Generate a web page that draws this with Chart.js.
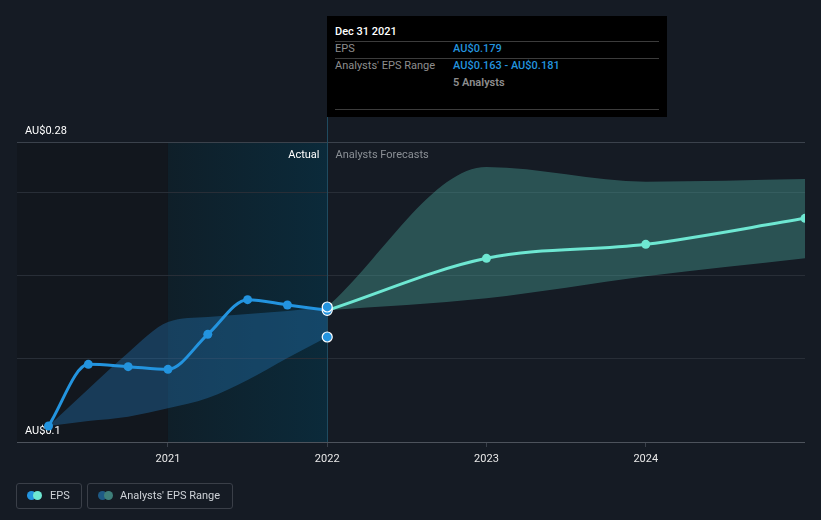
<!DOCTYPE html>
<html><head><meta charset="utf-8">
<script src="https://cdn.jsdelivr.net/npm/chart.js@4"></script>
<style>
html,body{margin:0;padding:0;background:#151b24;width:821px;height:520px;overflow:hidden;font-family:Roboto,"Noto Sans",sans-serif}
#wrap{position:relative;width:821px;height:520px}
canvas{position:absolute;left:0;top:0}
.tip{position:absolute;left:327px;top:16px;width:340px;height:101px;background:#000;font-size:11px;line-height:14px}
.tip div{position:absolute;white-space:nowrap}
.sep{height:1px;background:#3c3c3c;left:8px;width:324px}
.lab{color:#8e8e8e;left:8px}
.val{color:#2394df;left:126px;font-weight:500}
.leg{position:absolute;top:483px;height:26px;border:1px solid #3a3f48;border-radius:3px;box-sizing:border-box;color:#cfd3d8;font-size:11px}
.leg span.t{position:absolute;top:5px;line-height:14px;white-space:nowrap}
.dot{position:absolute;width:9px;height:9px;border-radius:50%;top:7px}
</style></head>
<body>
<div id="wrap">
<canvas id="c" width="821" height="520"></canvas>
<div class="tip">
  <div style="left:8px;top:9px;color:#fff;font-weight:500">Dec 31 2021</div>
  <div class="sep" style="top:25px"></div>
  <div class="lab" style="top:26px">EPS</div>
  <div class="val" style="top:26px">AU$0.179</div>
  <div class="sep" style="top:42px"></div>
  <div class="lab" style="top:43px">Analysts' EPS Range</div>
  <div class="val" style="top:43px">AU$0.163 - AU$0.181</div>
  <div style="left:126px;top:60px;color:#8e8e8e;font-weight:600">5 Analysts</div>
  <div class="sep" style="top:93px"></div>
</div>
<div class="leg" style="left:16px;width:66px">
  <div class="dot" style="left:10px;background:#2394df"></div>
  <div class="dot" style="left:16px;background:#6ee7d2"></div>
  <span class="t" style="left:33px">EPS</span>
</div>
<div class="leg" style="left:87px;width:146px">
  <div class="dot" style="left:10px;background:#1e5a85"></div>
  <div class="dot" style="left:16px;background:#3e7f7a"></div>
  <span class="t" style="left:32px">Analysts' EPS Range</span>
</div>
</div>
<script>
// ---- data ----
const actualDates = [2020.25, 2020.5, 2020.75, 2021.0, 2021.25, 2021.5, 2021.75, 2022.0];
const actualEPS   = [0.1096, 0.1466, 0.1452, 0.1436, 0.1646, 0.1854, 0.1822, 0.179];
const pastRangeLow  = [0.1096, 0.1126, 0.1152, 0.1202, 0.1264, 0.1372, 0.1504, 0.163];
const pastRangeHigh = [0.1096, 0.1318, 0.1536, 0.1720, 0.1750, 0.1768, 0.1786, 0.181];
const forecastDates = [2022.0, 2023.0, 2024.0, 2025.0];
const forecastEPS   = [0.179, 0.2102, 0.2186, 0.2342];
const forecastLow   = [0.179, 0.1862, 0.1994, 0.2102];
const forecastHigh  = [0.181, 0.2650, 0.2562, 0.2578];
const hoverDate = 2022.0;
const hoverRange = [0.181, 0.163];
const xTickValues = [2021, 2022, 2023, 2024];
const yTickValues = [0.1, 0.15, 0.2, 0.25, 0.28];
const yTickLabels = {"0.1": "AU$0.1", "0.28": "AU$0.28"};
const highlightStart = 2021.0, highlightEnd = 2022.0;

const pts = (xs, ys) => xs.map((x, i) => ({x, y: ys[i]}));

const bgPlugin = {
  id: 'bg',
  beforeDraw(chart) {
    const {ctx, chartArea: a, scales: {x}} = chart;
    const x1 = x.getPixelForValue(highlightStart), x2 = x.getPixelForValue(highlightEnd);
    ctx.save();
    ctx.fillStyle = '#12171e';
    ctx.fillRect(a.left, a.top, x1 - a.left, a.bottom - a.top);
    const g = ctx.createLinearGradient(x1, 0, x2, 0);
    g.addColorStop(0, '#0f1f29');
    g.addColorStop(1, '#0b2a3a');
    ctx.fillStyle = g;
    ctx.fillRect(x1, a.top, x2 - x1, a.bottom - a.top);
    ctx.restore();
  },
  afterDatasetsDraw(chart) {
    const {ctx, chartArea: a, scales: {x}} = chart;
    const xp = Math.round(x.getPixelForValue(hoverDate)) + 0.5;
    ctx.save();
    ctx.font = '11px Roboto, sans-serif';
    ctx.textBaseline = 'middle';
    ctx.textAlign = 'right';
    ctx.fillStyle = '#ffffff';
    ctx.fillText('Actual', xp - 8, a.top + 13);
    ctx.textAlign = 'left';
    ctx.fillStyle = '#8b9096';
    ctx.fillText('Analysts Forecasts', xp + 8, a.top + 13);
    ctx.restore();
  },
  beforeDatasetsDraw(chart) {
    const {ctx, chartArea: a, scales: {x}} = chart;
    const xp = Math.round(x.getPixelForValue(hoverDate)) + 0.5;
    ctx.save();
    ctx.strokeStyle = '#1f4b60';
    ctx.lineWidth = 1;
    ctx.beginPath();
    ctx.moveTo(xp, 117);
    ctx.lineTo(xp, a.bottom);
    ctx.stroke();
    ctx.restore();
  }
};

new Chart(document.getElementById('c'), {
  type: 'line',
  data: {
    datasets: [
      { // 0 past low
        data: pts(actualDates, pastRangeLow), borderWidth: 0, pointRadius: 0, fill: false,
        cubicInterpolationMode: 'monotone', order: 5
      },
      { // 1 past high
        data: pts(actualDates, pastRangeHigh), borderWidth: 0, pointRadius: 0,
        fill: 0, backgroundColor: 'rgba(35,115,175,0.40)',
        cubicInterpolationMode: 'monotone', order: 5
      },
      { // 2 forecast low
        data: pts(forecastDates, forecastLow), borderWidth: 0, pointRadius: 0, fill: false,
        cubicInterpolationMode: 'monotone', order: 5
      },
      { // 3 forecast high
        data: pts(forecastDates, forecastHigh), borderWidth: 0, pointRadius: 0,
        fill: 2, backgroundColor: 'rgba(72,160,150,0.42)',
        cubicInterpolationMode: 'monotone', order: 5
      },
      { // 4 forecast EPS
        data: pts(forecastDates, forecastEPS), borderColor: '#6ee7d2', borderWidth: 3,
        pointRadius: ctx => ctx.dataIndex === 0 ? 0 : 4.5, pointBackgroundColor: '#6ee7d2',
        pointBorderWidth: 0, fill: false, cubicInterpolationMode: 'monotone', order: 3
      },
      { // 5 actual EPS
        data: pts(actualDates, actualEPS), borderColor: '#2394df', borderWidth: 3,
        pointRadius: ctx => ctx.dataIndex === actualDates.length - 1 ? 5 : 4.5,
        pointBackgroundColor: '#2394df',
        pointBorderColor: ctx => ctx.dataIndex === actualDates.length - 1 ? '#ffffff' : '#2394df',
        pointBorderWidth: ctx => ctx.dataIndex === actualDates.length - 1 ? 1.2 : 0,
        fill: false, cubicInterpolationMode: 'monotone', order: 2
      },
      { // 6 hover range points
        data: hoverRange.map(v => ({x: hoverDate, y: v})), showLine: false,
        pointRadius: 5, pointBackgroundColor: '#2394df', pointBorderColor: '#ffffff', pointBorderWidth: 1.2,
        order: 1
      }
    ]
  },
  options: {
    responsive: false, animation: false, devicePixelRatio: 1,
    layout: {padding: {left: 17, right: 16, top: 142, bottom: 0}},
    plugins: {legend: {display: false}, tooltip: {enabled: false}},
    events: [],
    scales: {
      x: {
        type: 'linear', min: 2020.052, max: 2025.0,
        afterBuildTicks: s => { s.ticks = xTickValues.map(v => ({value: v})); },
        afterFit: s => { s.height = 78; },
        ticks: {color: '#e8e8e8', font: {family: 'Roboto', size: 11}, padding: 6, callback: v => String(v), maxRotation: 0},
        grid: {drawOnChartArea: false, drawTicks: true, tickLength: 5, color: '#3a404a'},
        border: {display: false}
      },
      y: {
        min: 0.1, max: 0.28,
        afterBuildTicks: s => { s.ticks = yTickValues.map(v => ({value: v})); },
        afterFit: s => { s.width = 0; },
        ticks: {mirror: true, padding: 8, labelOffset: -11, color: '#ffffff', font: {family: 'Roboto', size: 11},
          callback: v => yTickLabels[String(v)] || ''},
        grid: {drawTicks: false, color: c => (c.tick && (c.tick.value === 0.1)) ? '#4d535c' : (c.tick && c.tick.value === 0.28 ? '#3b424c' : '#282e37')},
        border: {display: false}
      }
    }
  },
  plugins: [bgPlugin]
});
</script>
</body></html>
